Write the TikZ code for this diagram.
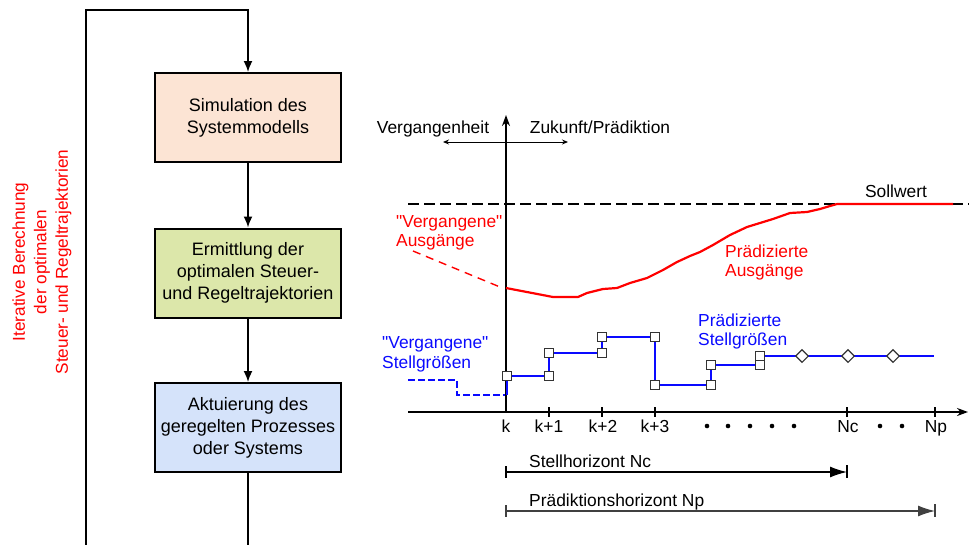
\documentclass[tikz,border=0pt]{standalone}
\usepackage{fontspec}
\setmainfont{Liberation Sans}
\usetikzlibrary{arrows.meta,shapes.geometric}
\definecolor{peach}{RGB}{252,228,212}
\definecolor{lgreen}{RGB}{220,231,170}
\definecolor{lblue}{RGB}{213,227,250}
\definecolor{myred}{RGB}{255,0,0}
\definecolor{myblue}{RGB}{10,10,255}
\newcommand{\mydq}{\XeTeXglyph\XeTeXcharglyph"22\relax}
\begin{document}
\begin{tikzpicture}[x=1pt,y=-1pt,
  box/.style={draw=black, line width=2pt, minimum width=186pt, minimum height=89pt,
    inner sep=0pt, align=center, font=\fontsize{18}{22}\selectfont},
  flow/.style={line width=1.7pt, -{Latex[length=11pt,width=9pt]}},
  lbl/.style={font=\fontsize{17.4}{19.5}\selectfont, inner sep=0pt},
  sq/.style={rectangle, draw=black!80, fill=white, line width=1.1pt, minimum size=9pt, inner sep=0pt},
  dia/.style={diamond, draw=black!80, fill=white, line width=1.1pt, minimum size=13pt, inner sep=0pt},
  axisline/.style={line width=1.8pt, -{Stealth[length=11pt,width=8pt]}},
  tickmark/.style={line width=1.2pt},
  hor/.style={line width=1.3pt, -{Latex[length=17pt,width=11pt]}},
  horbar/.style={line width=1.3pt},
  dotmark/.style={circle, fill=black, inner sep=0pt, minimum size=4.6pt}
]
\useasboundingbox (0,0) rectangle (969,544);

% ---------- flowchart ----------
\node[box, fill=peach]  (b1) at (248,117.5) {Simulation des\\Systemmodells};
\node[box, fill=lgreen] (b2) at (248,273)   {Ermittlung der\\optimalen Steuer-\\und Regeltrajektorien};
\node[box, fill=lblue]  (b3) at (248,427.5) {Aktuierung des\\geregelten Prozesses\\oder Systems};
\draw[flow] (b1) -- (b2);
\draw[flow] (b2) -- (b3);
\coordinate (lb) at (86,550);
\coordinate (lt) at (86,10);
\coordinate (rb) at (248,550);
\draw[flow, line join=miter] (b3.south) -- (rb) -- (lb) -- (lt) -- (lt -| b1.north) -- (b1.north);
\node[lbl, text=myred, rotate=90, align=center, font=\fontsize{17.2}{21.5}\selectfont] (iter) at (42,262)
  {Iterative Berechnung\\der optimalen\\Steuer- und Regeltrajektorien};

% ---------- chart ----------
\coordinate (ax0) at (408,412);
\coordinate (axE) at (968,412);
\coordinate (k)   at (506,412);
\coordinate (vtop) at (506,115);

% Sollwert
\coordinate (s0) at (408,204);
\coordinate (s1) at (969,204);
\draw[line width=1.6pt, dash pattern=on 11pt off 5pt] (s0) -- (s1);

% time axis and vertical axis
\draw[axisline] (ax0) -- (axE);
\draw[axisline] (k) -- (vtop);

% double arrow
\coordinate (da0) at (443,142);
\coordinate (da1) at (568,142);
\draw[line width=0.9pt, {Stealth[length=6pt,width=5pt]}-{Stealth[length=6pt,width=5pt]}] (da0) -- (da1);
\node[lbl, anchor=base] (verg) at (433,133) {Vergangenheit};
\node[lbl, anchor=base] (zuk) at (600,133) {Zukunft/Prädiktion};
\node[lbl, anchor=base] (soll) at (896,197) {Sollwert};

% ticks
\foreach \x in {549,602,655,847,935}
  \draw[tickmark] (\x,407) -- (\x,417);
\node[lbl, anchor=base] (tk)  at (506,432) {k};
\node[lbl, anchor=base] (tk1) at (549,432) {k+1};
\node[lbl, anchor=base] (tk2) at (603,432) {k+2};
\node[lbl, anchor=base] (tk3) at (655,432) {k+3};
\node[lbl, anchor=base] (tnc) at (848,432) {Nc};
\node[lbl, anchor=base] (tnp) at (936,432) {Np};
\foreach \x/\n in {707/d1,728/d2,750/d3,772/d4,794/d5,880/d6,902/d7}
  \node[dotmark] (\n) at (\x,426) {};

% red outputs
\draw[myred, line width=1.4pt, dash pattern=on 8pt off 6pt] (413,251) -- (500,287);
\draw[myred, line width=2.2pt, line join=round] (506,288) -- (553,297) -- (578,297) -- (587,293) -- (603,289)
  -- (617,288) -- (630,283) -- (647,278) -- (663,270) -- (677,262) -- (690,256) -- (700,252)
  -- (713,245) -- (730,235) -- (747,227) -- (760,223) -- (773,219) -- (790,213) -- (807,212)
  -- (820,209) -- (830,206) -- (837,204) -- (953,204);
\node[lbl, text=myred, anchor=base west] (va1) at (396,227) {\mydq Vergangene\mydq};
\node[lbl, text=myred, anchor=base west] (va2) at (396,246) {Ausgänge};
\node[lbl, text=myred, anchor=base west] (pa1) at (725,257) {Prädizierte};
\node[lbl, text=myred, anchor=base west] (pa2) at (725,276) {Ausgänge};

% blue inputs
\draw[myblue, line width=1.3pt, dash pattern=on 7pt off 3pt] (408,380) -- (457,380) -- (457,395) -- (505,395);
\draw[myblue, line width=2.2pt, line join=miter] (507,395) -- (507,376) -- (549,376) -- (549,353) -- (602,353)
  -- (602,337) -- (655,337) -- (655,385) -- (711,385) -- (711,365) -- (760,365) -- (760,356) -- (934,356);
\foreach \x/\y/\n in {507/376/q1,549/376/q2,549/353/q3,602/353/q4,602/337/q5,655/337/q6,
    655/385/q7,711/385/q8,711/365/q9,760/365/q10,760/356/q11}
  \node[sq] (\n) at (\x,\y) {};
\foreach \x/\n in {802/r1,848/r2,893/r3}
  \node[dia] (\n) at (\x,356) {};
\node[lbl, text=myblue, anchor=base west] (vs1) at (382,348) {\mydq Vergangene\mydq};
\node[lbl, text=myblue, anchor=base west] (vs2) at (382,368) {Stellgrößen};
\node[lbl, text=myblue, anchor=base west] (ps1) at (698,326) {Prädizierte};
\node[lbl, text=myblue, anchor=base west] (ps2) at (698,345) {Stellgrößen};

% horizons
\coordinate (nc0) at (506,472);
\coordinate (nc1) at (847,472);
\draw[hor] (nc0) -- (nc1);
\draw[horbar] (506,466) -- (506,478);
\draw[horbar] (847,465) -- (847,478);
\node[lbl, anchor=base west] (stell) at (529,467) {Stellhorizont Nc};
\coordinate (np0) at (506,511);
\coordinate (np1) at (935,511);
\draw[hor, black!75] (np0) -- (np1);
\draw[horbar, black!75] (506,505) -- (506,517);
\draw[horbar, black!75] (935,504) -- (935,517);
\node[lbl, anchor=base west] (praed) at (529,506) {Prädiktionshorizont Np};
\end{tikzpicture}
\end{document}
